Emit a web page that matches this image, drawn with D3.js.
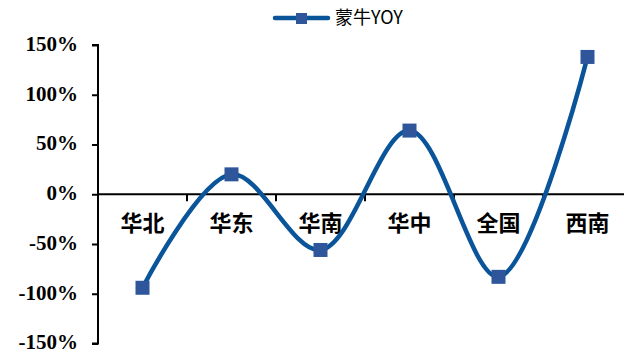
<!DOCTYPE html>
<html>
<head>
<meta charset="utf-8">
<script src="https://cdn.jsdelivr.net/npm/d3@7"></script>
<style>
  body { margin: 0; background: #fff; }
  svg { display: block; }
</style>
</head>
<body>
<div id="chart"></div>
<script>
var categories = ["华北", "华东", "华南", "华中", "全国", "西南"];
var yoyValues = [-94, 20, -56, 64, -83, 138];
var yTicks = [-150, -100, -50, 0, 50, 100, 150];
var seriesName = "蒙牛YOY";

var width = 624, height = 354;
var lineColor = "#0a5499", markerColor = "#2f569b";

var svg = d3.select("#chart").append("svg")
    .attr("width", width)
    .attr("height", height);

var x = d3.scaleBand()
    .domain(categories)
    .range([98, 632])
    .padding(0);

var y = d3.scaleLinear()
    .domain([-150, 150])
    .range([343.5, 45]);

// y axis
var yAxis = d3.axisLeft(y)
    .tickValues(yTicks)
    .tickSize(6)
    .tickFormat(function (d) { return d + "%"; });

var gy = svg.append("g")
    .attr("transform", "translate(98,0)")
    .call(yAxis)
    .attr("font-family", "'Liberation Serif', 'Times New Roman', serif")
    .attr("font-size", 21)
    .attr("font-weight", "bold");
gy.select(".domain").attr("stroke", "#000").attr("stroke-width", 2)
    .attr("d", "M-6," + y(150) + "H0V" + y(-150) + "H-6");
gy.selectAll(".tick line").attr("stroke", "#000").attr("stroke-width", 2);
gy.selectAll(".tick text")
    .attr("x", -20)
    .attr("dy", "0.26em")
    .attr("fill", "#000");

// x axis at zero
var gx = svg.append("g");
gx.append("line")
    .attr("x1", 98).attr("x2", width)
    .attr("y1", y(0)).attr("y2", y(0))
    .attr("stroke", "#000").attr("stroke-width", 2);
gx.selectAll(".xtick")
    .data(categories.slice(1))
    .enter().append("line")
    .attr("class", "xtick")
    .attr("x1", function (d) { return x(d); })
    .attr("x2", function (d) { return x(d); })
    .attr("y1", y(0))
    .attr("y2", y(0) + 7)
    .attr("stroke", "#000").attr("stroke-width", 2);
gx.selectAll(".xlabel")
    .data(categories)
    .enter().append("text")
    .attr("class", "xlabel")
    .attr("x", function (d) { return x(d) + x.bandwidth() / 2; })
    .attr("y", y(0) + 29)
    .attr("dy", "0.35em")
    .attr("text-anchor", "middle")
    .style("font-family", "'Noto Sans CJK SC', sans-serif")
    .style("font-weight", "bold")
    .style("font-size", "22px")
    .attr("fill", "#000")
    .text(function (d) { return d; });

// series line
var line = d3.line()
    .x(function (d, i) { return x(categories[i]) + x.bandwidth() / 2; })
    .y(function (d) { return y(d); })
    .curve(d3.curveCatmullRom.alpha(0.5));

svg.append("path")
    .datum(yoyValues)
    .attr("d", line)
    .attr("fill", "none")
    .attr("stroke", lineColor)
    .attr("stroke-width", 4.5)
    .attr("stroke-linecap", "round");

svg.selectAll(".marker")
    .data(yoyValues)
    .enter().append("rect")
    .attr("class", "marker")
    .attr("x", function (d, i) { return x(categories[i]) + x.bandwidth() / 2 - 7; })
    .attr("y", function (d) { return y(d) - 7; })
    .attr("width", 14)
    .attr("height", 14)
    .attr("fill", markerColor);

// legend
var legend = svg.append("g");
legend.append("line")
    .attr("x1", 275).attr("x2", 328)
    .attr("y1", 18).attr("y2", 18)
    .attr("stroke", lineColor)
    .attr("stroke-width", 4.5)
    .attr("stroke-linecap", "round");
legend.append("rect")
    .attr("x", 296).attr("y", 13)
    .attr("width", 11).attr("height", 11)
    .attr("fill", markerColor);
legend.append("text")
    .attr("x", 335)
    .attr("y", 18)
    .attr("dy", "0.35em")
    .style("font-family", "'Noto Sans CJK SC', sans-serif")
    .style("font-size", "18px")
    .attr("fill", "#000")
    .text(seriesName);
</script>
</body>
</html>
